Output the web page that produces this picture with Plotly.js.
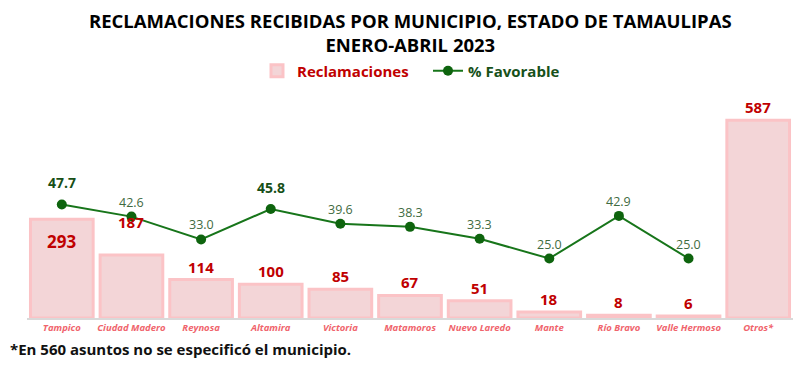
<!DOCTYPE html>
<html><head><meta charset="utf-8">
<script src="https://cdn.plot.ly/plotly-3.0.1.min.js"></script>
<style>html,body{margin:0;padding:0;background:#fff}#c{width:807px;height:369px}</style>
</head><body><div id="c"></div>
<script>
const categories = ["Tampico","Ciudad Madero","Reynosa","Altamira","Victoria","Matamoros","Nuevo Laredo","Mante","Río Bravo","Valle Hermoso","Otros*"];
const reclamaciones = [293,187,114,100,85,67,51,18,8,6,587];
const favorable = [47.7,42.6,33.0,45.8,39.6,38.3,33.3,25.0,42.9,25.0,null];
const titleLines = ["RECLAMACIONES RECIBIDAS POR MUNICIPIO, ESTADO DE TAMAULIPAS","ENERO-ABRIL 2023"];
const footnote = "*En 560 asuntos no se especificó el municipio.";

const FONT = "Open Sans, Lato, sans-serif";
const barShift = {0:-37, 1:20};      // label offsets (px) for special cases
const boldFav = {0:true, 3:true};

const PLOT_TOP = 100, PLOT_H = 218;
const py = px => (PLOT_TOP + PLOT_H - px) / PLOT_H; // pixel row -> paper y

const annotations = [];
reclamaciones.forEach((v,i)=>{
  annotations.push({x:categories[i], y:v, xref:'x', yref:'y', text:'<b>'+v+'</b>', showarrow:false,
    yanchor:'bottom', yshift: 1 + (barShift[i]||0),
    font:{family:FONT, size: i===0?17:15, color:'#c00000'}});
});
favorable.forEach((v,i)=>{
  if(v===null) return;
  const b = !!boldFav[i];
  annotations.push({x:categories[i], y:v, xref:'x', yref:'y2', text: b?'<b>'+v.toFixed(1)+'</b>':v.toFixed(1), showarrow:false,
    yanchor:'bottom', yshift: b?10:4,
    font:{family:FONT, size: b?14:12.5, color: b?'#174f17':'#3f6b3f'}});
});
annotations.push({xref:'paper', yref:'paper', x:0.5, y:py(32.5), xanchor:'center', yanchor:'middle', showarrow:false,
  text:'<b>'+titleLines.join('<br>')+'</b>', font:{family:FONT, size:18.5, color:'#000'}});
annotations.push({xref:'paper', yref:'paper', x:-0.025, y:py(349), xanchor:'left', yanchor:'middle', showarrow:false,
  text:'<b>'+footnote+'</b>', font:{family:FONT, size:15, color:'#111'}});

const data = [
  {type:'bar', name:'Reclamaciones', x:categories, y:reclamaciones,
   marker:{color:'#f3d5d7', line:{color:'#fbc3c6', width:3}}, hoverinfo:'skip'},
  {type:'scatter', mode:'lines+markers', name:'% Favorable', x:categories, y:favorable, yaxis:'y2',
   line:{color:'#17751a', width:2}, marker:{color:'#0e640e', size:10}, connectgaps:false}
];

const layout = {
  width:807, height:369,
  margin:{l:27, r:14, t:PLOT_TOP, b:51, autoexpand:false},
  paper_bgcolor:'#fff', plot_bgcolor:'#fff',
  showlegend:true,
  legend:{orientation:'h', x:0.5235, xanchor:'center', y:py(71), yanchor:'middle',
    font:{family:FONT, size:15, color:'#c00000'}, itemwidth:30, tracegroupgap:0, entrywidth:126},
  bargap:0.1,
  xaxis:{range:[-0.5, categories.length-0.5], tickfont:{family:FONT, size:9.5, color:'#f0646c', style:'italic', weight:'bold'}, automargin:false,
    showline:true, linecolor:'#d9d9d9', linewidth:1.5, ticks:'', showgrid:false, zeroline:false},
  yaxis:{range:[0,647], visible:false, showgrid:false, zeroline:false, automargin:false},
  yaxis2:{range:[0,91.6], overlaying:'y', side:'right', visible:false, showgrid:false, zeroline:false, automargin:false},
  annotations:annotations
};

Plotly.newPlot('c', data, layout, {displayModeBar:false, staticPlot:true}).then(()=>{
  const texts = document.querySelectorAll('.legendtext');
  if(texts[1]) { texts[1].style.fill = '#17511a'; }
  texts.forEach(t=>t.style.fontWeight='bold');
});
</script>
</body></html>
